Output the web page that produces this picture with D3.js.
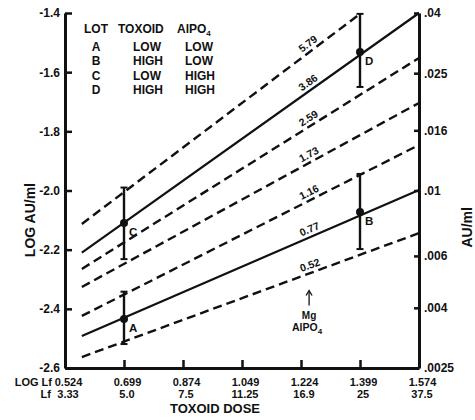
<!DOCTYPE html>
<html>
<head>
<meta charset="utf-8">
<script src="https://cdn.jsdelivr.net/npm/d3@7"></script>
<style>
  body { margin: 0; background: #fff; }
  text { font-family: "Liberation Sans", Arial, sans-serif; font-weight: bold; fill: #111; }
</style>
</head>
<body>
<div id="chart"></div>
<script>
// Toxoid dose (log Lf) ticks and their plain Lf labels
const logLf = [0.524, 0.699, 0.874, 1.049, 1.224, 1.399, 1.574];
const lfLabels = ["3.33", "5.0", "7.5", "11.25", "16.9", "25", "37.5"];

// Left axis (log AU/ml) and right axis (AU/ml)
const logAuTicks = [-1.4, -1.6, -1.8, -2.0, -2.2, -2.4, -2.6];
const auTicks = [0.04, 0.025, 0.016, 0.01, 0.006, 0.004, 0.0025];
const auLabels = [".04", ".025", ".016", ".01", ".006", ".004", ".0025"];

// Reference lines (start / end in log Lf, log AU/ml)
const refLabels = ["5.79", "3.86", "2.59", "1.73", "1.16", "0.77", "0.52"];
const refStartX = [0.574, 0.574, 0.574, 0.574, 0.574, 0.574, 0.574];
const refStartY = [-2.113, -2.210, -2.265, -2.326, -2.424, -2.492, -2.563];
const refEndX = [1.399, 1.574, 1.574, 1.574, 1.574, 1.574, 1.574];
const refEndY = [-1.403, -1.400, -1.552, -1.704, -1.846, -1.998, -2.144];
const refSolid = [false, true, false, false, false, true, false];

// Lots with means and error bars
const lots = ["A", "B", "C", "D"];
const toxoid = ["LOW", "HIGH", "LOW", "HIGH"];
const alpo4 = ["LOW", "LOW", "HIGH", "HIGH"];
const lotDose = [0.699, 1.399, 0.699, 1.399];
const lotMean = [-2.434, -2.073, -2.110, -1.532];
const lotHigh = [-2.342, -1.944, -1.990, -1.403];
const lotLow = [-2.519, -2.198, -2.232, -1.650];

const svg = d3.select("#chart").append("svg")
  .attr("width", 475)
  .attr("height", 420);

const margin = { top: 13, right: 56, bottom: 52, left: 65 };
const width = 475 - margin.left - margin.right;
const height = 420 - margin.top - margin.bottom;

const x = d3.scaleLinear().domain([0.524, 1.574]).range([margin.left, margin.left + width]);
const y = d3.scaleLinear().domain([-2.6, -1.4]).range([margin.top + height, margin.top]);
const yR = d3.scaleLog().domain([0.0025, 0.04]).range([margin.top + height, margin.top]);

function styleAxis(g, size) {
  g.attr("font-size", size).attr("font-family", null);
  g.select(".domain").attr("stroke-width", 3).attr("stroke", "#111");
  g.selectAll(".tick line").attr("stroke-width", 2.5).attr("stroke", "#111");
}

// Axes
svg.append("g")
  .attr("transform", `translate(${margin.left},0)`)
  .call(d3.axisLeft(y).tickValues(logAuTicks).tickSize(-7).tickSizeOuter(0).tickPadding(5)
    .tickFormat(d => d.toFixed(1)))
  .call(g => styleAxis(g, 12));

svg.append("g")
  .attr("transform", `translate(${margin.left + width},0)`)
  .call(d3.axisRight(yR).tickValues(auTicks).tickSize(-5).tickSizeOuter(0).tickPadding(5)
    .tickFormat((d, i) => auLabels[i]))
  .call(g => styleAxis(g, 12));

const xAxis = svg.append("g")
  .attr("transform", `translate(0,${margin.top + height})`)
  .call(d3.axisBottom(x).tickValues(logLf).tickSize(-8).tickSizeOuter(0).tickPadding(10)
    .tickFormat(d => d.toFixed(3)))
  .call(g => styleAxis(g, 11));
xAxis.selectAll(".tick text").attr("dx", 3);

// Second row of dose labels (Lf)
svg.append("g").selectAll("text")
  .data(logLf)
  .join("text")
  .attr("x", d => x(d) + 3)
  .attr("y", margin.top + height + 30)
  .attr("text-anchor", "middle")
  .attr("font-size", 11)
  .text((d, i) => lfLabels[i]);

svg.append("text").attr("x", 52).attr("y", margin.top + height + 18)
  .attr("text-anchor", "end").attr("font-size", 11).text("LOG Lf");
svg.append("text").attr("x", 51).attr("y", margin.top + height + 30)
  .attr("text-anchor", "end").attr("font-size", 11).text("Lf");

// Axis titles
svg.append("text")
  .attr("x", 215).attr("y", 413)
  .attr("text-anchor", "middle").attr("font-size", 13)
  .text("TOXOID DOSE");

svg.append("text")
  .attr("transform", `translate(35,${y(-2.1)}) rotate(-90)`)
  .attr("text-anchor", "middle").attr("font-size", 14)
  .text("LOG AU/ml");

svg.append("text")
  .attr("transform", `translate(472,${yR(0.0075)}) rotate(-90)`)
  .attr("text-anchor", "middle").attr("font-size", 14)
  .text("AU/ml");

// Reference lines
const refs = refLabels.map((lab, i) => ({
  label: lab, solid: refSolid[i],
  pts: [[refStartX[i], refStartY[i]], [refEndX[i], refEndY[i]]]
}));

const line = d3.line().x(d => x(d[0])).y(d => y(d[1]));

svg.append("g").selectAll("path")
  .data(refs)
  .join("path")
  .attr("d", d => line(d.pts))
  .attr("fill", "none")
  .attr("stroke", "#111")
  .attr("stroke-width", d => d.solid ? 2.2 : 2.4)
  .attr("stroke-dasharray", d => d.solid ? null : "9,5");

// Line labels along each line
const labelX = 1.258;
svg.append("g").selectAll("text")
  .data(refs)
  .join("text")
  .attr("transform", d => {
    const [p0, p1] = d.pts;
    const t = (labelX - p0[0]) / (p1[0] - p0[0]);
    const ly = p0[1] + t * (p1[1] - p0[1]);
    const ang = Math.atan2(y(p1[1]) - y(p0[1]), x(p1[0]) - x(p0[0])) * 180 / Math.PI;
    return `translate(${x(labelX)},${y(ly)}) rotate(${ang})`;
  })
  .attr("y", -4)
  .attr("text-anchor", "middle")
  .attr("font-size", 10.5)
  .text(d => d.label);

// Error bars and means
const lotData = lots.map((l, i) => ({
  lot: l, dose: lotDose[i], mean: lotMean[i], hi: lotHigh[i], lo: lotLow[i]
}));

const bars = svg.append("g").selectAll("g")
  .data(lotData)
  .join("g");

bars.append("line")
  .attr("x1", d => x(d.dose)).attr("x2", d => x(d.dose))
  .attr("y1", d => y(d.hi)).attr("y2", d => y(d.lo))
  .attr("stroke", "#111").attr("stroke-width", 2.4);

bars.selectAll(".cap")
  .data(d => [[d.dose, d.hi], [d.dose, d.lo]])
  .join("line")
  .attr("class", "cap")
  .attr("x1", d => x(d[0]) - 3.5).attr("x2", d => x(d[0]) + 3.5)
  .attr("y1", d => y(d[1])).attr("y2", d => y(d[1]))
  .attr("stroke", "#111").attr("stroke-width", 2);

bars.append("circle")
  .attr("cx", d => x(d.dose)).attr("cy", d => y(d.mean))
  .attr("r", 4).attr("fill", "#111");

bars.append("text")
  .attr("x", d => x(d.dose) + 5)
  .attr("y", d => y(d.mean) + 13)
  .attr("font-size", 11.5)
  .text(d => d.lot);

// Legend table
const legend = svg.append("g");
const colX = [96, 133, 185];
const headerY = 33;
legend.append("text").attr("x", colX[0]).attr("y", headerY)
  .attr("text-anchor", "middle").attr("font-size", 12).text("LOT");
legend.append("text").attr("x", 118).attr("y", headerY)
  .attr("font-size", 12).text("TOXOID");
legend.append("text").attr("x", 177).attr("y", headerY)
  .attr("font-size", 12)
  .call(t => {
    t.append("tspan").text("AlPO");
    t.append("tspan").attr("dy", 3).attr("font-size", 8).text("4");
  });

const rows = legend.selectAll(".row")
  .data(lots)
  .join("g")
  .attr("class", "row")
  .attr("transform", (d, i) => `translate(0,${51 + i * 14.4})`);
rows.append("text").attr("x", colX[0]).attr("text-anchor", "middle")
  .attr("font-size", 12).text(d => d);
rows.append("text").attr("x", colX[1])
  .attr("font-size", 12).text((d, i) => toxoid[i]);
rows.append("text").attr("x", colX[2])
  .attr("font-size", 12).text((d, i) => alpo4[i]);

// Mg AlPO4 annotation
const ax = x(1.248);
const ay = y(-2.338);
svg.append("line")
  .attr("x1", ax).attr("x2", ax)
  .attr("y1", ay + 15).attr("y2", ay + 1)
  .attr("stroke", "#111").attr("stroke-width", 1.3);
svg.append("path")
  .attr("d", `M${ax - 3},${ay + 5} L${ax},${ay} L${ax + 3},${ay + 5}`)
  .attr("fill", "none").attr("stroke", "#111").attr("stroke-width", 1.3);
svg.append("text").attr("x", ax).attr("y", ay + 29)
  .attr("text-anchor", "middle").attr("font-size", 10).text("Mg");
svg.append("text").attr("x", ax - 2).attr("y", ay + 41)
  .attr("text-anchor", "middle").attr("font-size", 10.5)
  .call(t => {
    t.append("tspan").text("AlPO");
    t.append("tspan").attr("dy", 3).attr("font-size", 8).text("4");
  });
</script>
</body>
</html>
